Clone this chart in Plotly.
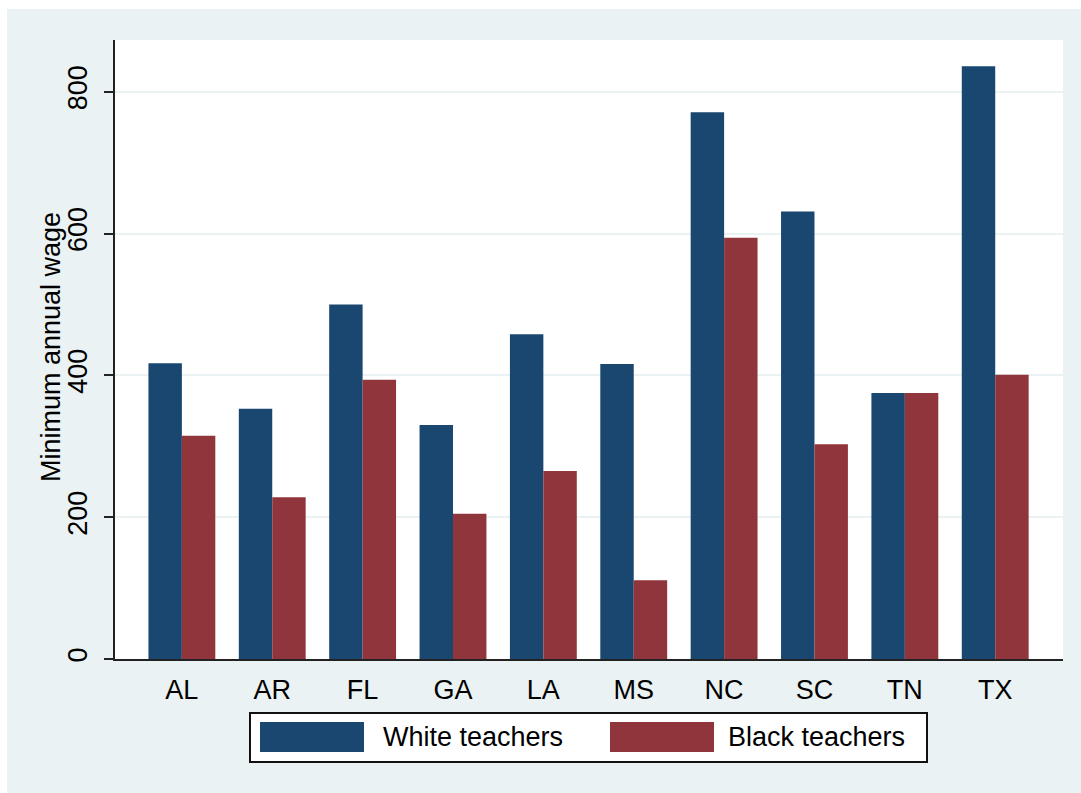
import plotly.graph_objects as go

# Minimum annual wage by state and teacher group
states = ["AL", "AR", "FL", "GA", "LA", "MS", "NC", "SC", "TN", "TX"]
white_wage = [417, 353, 500, 330, 458, 416, 771, 631, 375, 836]
black_wage = [315, 228, 394, 205, 265, 111, 594, 303, 375, 401]
series_names = ["White teachers", "Black teachers"]
series_colors = ["#1A476F", "#90353B"]
y_ticks = [0, 200, 400, 600, 800]
y_title = "Minimum annual wage"

W, H = 1081, 793
ML, MR, MT, MB = 115, 18, 40, 134
PW, PH = W - ML - MR, H - MT - MB
BG = "#EAF2F3"
FONT = "Liberation Sans, Arial, sans-serif"


def px_x(p):
    return (p - ML) / PW


def px_y(p):
    return (H - MB - p) / PH


fig = go.Figure()
for name, vals, col in zip(series_names, [white_wage, black_wage], series_colors):
    fig.add_trace(go.Bar(x=states, y=vals, name=name, marker_color=col,
                         marker_line_width=0, showlegend=False))

shapes = [
    # thin white border on the left and top of the graph region
    dict(type="rect", xref="paper", yref="paper", x0=px_x(0), x1=px_x(7),
         y0=px_y(H), y1=px_y(0), fillcolor="white", line_width=0, layer="below"),
    dict(type="rect", xref="paper", yref="paper", x0=px_x(0), x1=px_x(W),
         y0=px_y(9), y1=px_y(0), fillcolor="white", line_width=0, layer="below"),
    # legend frame
    dict(type="rect", xref="paper", yref="paper", x0=px_x(250), x1=px_x(927),
         y0=px_y(762), y1=px_y(713), fillcolor="white",
         line=dict(color="#111", width=2)),
]
annotations = [
    # vertical axis title
    dict(xref="paper", yref="paper", x=px_x(51), y=px_y(347), text=y_title,
         textangle=-90, showarrow=False, xanchor="center", yanchor="middle",
         font=dict(family=FONT, size=27, color="#000")),
]
key_x = [260, 610]
text_x = [381, 726]
for name, col, kx, tx in zip(series_names, series_colors, key_x, text_x):
    shapes.append(dict(type="rect", xref="paper", yref="paper",
                       x0=px_x(kx), x1=px_x(kx + 104), y0=px_y(752), y1=px_y(722),
                       fillcolor=col, line_width=0))
    annotations.append(dict(xref="paper", yref="paper", x=px_x(tx), y=px_y(737.5),
                            text=name, showarrow=False, xanchor="left", yanchor="middle",
                            font=dict(family=FONT, size=27, color="#000")))

fig.update_layout(
    width=W, height=H,
    margin=dict(l=ML, r=MR, t=MT, b=MB, pad=0),
    paper_bgcolor=BG, plot_bgcolor="white",
    barmode="group", bargap=0.26, bargroupgap=0,
    font=dict(family=FONT, size=27, color="#000"),
    shapes=shapes, annotations=annotations,
    xaxis=dict(type="category", categoryarray=states, range=[-0.74, 9.75],
               showline=True, linecolor="#222", linewidth=2, showgrid=False,
               ticks="", ticklabelstandoff=6, tickfont=dict(size=27),
               zeroline=False),
    yaxis=dict(range=[0, 873], tickvals=y_ticks, tickangle=-90,
               showline=True, linecolor="#222", linewidth=2,
               ticks="outside", ticklen=9, tickwidth=2, tickcolor="#222",
               showgrid=True, gridcolor=BG, gridwidth=2, zeroline=False,
               tickfont=dict(size=27), ticklabelstandoff=6),
)

fig.write_html("out.html")
